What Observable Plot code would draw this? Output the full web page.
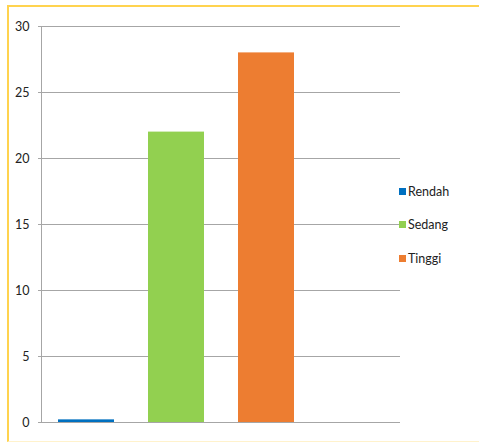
<!DOCTYPE html>
<html>
<head>
<meta charset="utf-8">
<script src="https://cdn.jsdelivr.net/npm/d3@7"></script>
<script src="https://cdn.jsdelivr.net/npm/@observablehq/plot@0.6"></script>
<style>
  html, body { margin: 0; padding: 0; background: #fff; }
  #wrap { position: relative; width: 479px; height: 445px; overflow: hidden; font-family: Lato, "Open Sans", sans-serif; }
  #border { position: absolute; left: 7px; top: 5px; width: 480px; height: 437px; border-left: 2px solid #ffd34f; border-top: 2px solid #ffd34f; border-bottom: 1px solid #fff2cc; box-sizing: border-box; pointer-events: none; }
  #chart { position: absolute; left: 0; top: 0; }
  #legend { position: absolute; left: 399px; top: 182px; font-size: 12.5px; color: #222; }
  #legend .item { display: flex; align-items: center; height: 18px; margin-bottom: 15.5px; }
  #legend .sw { width: 7px; height: 7px; margin-right: 2px; }
</style>
</head>
<body>
<div id="wrap">
  <div id="chart"></div>
  <div id="legend"></div>
  <div id="border"></div>
</div>
<script>
const categories = ["Rendah", "Sedang", "Tinggi"];
const values = [0.2, 22, 28];
const colors = ["#0070c0", "#92d050", "#ed7d31"];
const yTicks = [0, 5, 10, 15, 20, 25, 30];

const data = categories.map((c, i) => ({category: c, value: values[i]}));

const chart = Plot.plot({
  width: 479,
  height: 445,
  marginLeft: 41,
  marginRight: 79,
  marginTop: 26,
  marginBottom: 23,
  style: {fontFamily: "Lato, 'Open Sans', sans-serif", fontSize: "12.5px", color: "#222", background: "transparent"},
  x: {domain: categories, range: [41, 311], paddingInner: 0.38, paddingOuter: 0.19, axis: null},
  y: {domain: [0, 30], ticks: yTicks, label: null},
  color: {domain: categories, range: colors},
  marks: [
    Plot.ruleY(yTicks, {stroke: "#a6a6a6", strokeWidth: 1}),
    Plot.axisY({ticks: yTicks, tickSize: 3, tickPadding: 9, stroke: "#a6a6a6", strokeOpacity: 1, fill: "#222", label: null, fontSize: 12.5}),
    Plot.frame({anchor: "left", stroke: "#a6a6a6", strokeOpacity: 1}),
    Plot.barY(data, {x: "category", y: "value", fill: "category"})
  ]
});
document.getElementById("chart").appendChild(chart);

const legend = document.getElementById("legend");
categories.forEach((c, i) => {
  const item = document.createElement("div");
  item.className = "item";
  const sw = document.createElement("span");
  sw.className = "sw";
  sw.style.background = colors[i];
  const t = document.createElement("span");
  t.textContent = c;
  item.appendChild(sw);
  item.appendChild(t);
  legend.appendChild(item);
});
</script>
</body>
</html>
